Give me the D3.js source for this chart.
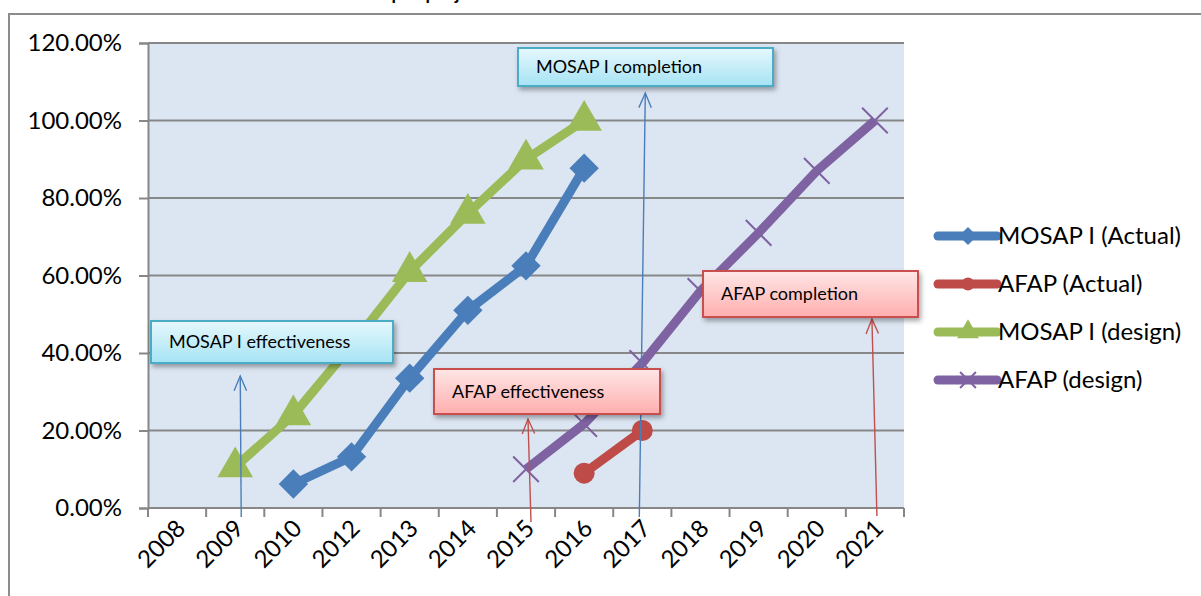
<!DOCTYPE html>
<html>
<head>
<meta charset="utf-8">
<script src="https://cdn.jsdelivr.net/npm/d3@7"></script>
<style>
  body { margin: 0; background: #fff; }
  svg { display: block; font-family: Lato, "Open Sans", sans-serif; }
</style>
</head>
<body>
<div id="chart"></div>
<script>
// categories on the x axis (note: no 2011 in the source)
var years = ["2008", "2009", "2010", "2012", "2013", "2014", "2015", "2016", "2017", "2018", "2019", "2020", "2021"];
var yTicks = [0, 0.2, 0.4, 0.6, 0.8, 1.0, 1.2];

// series values
var mosapActual = [["2010", 0.062], ["2012", 0.132], ["2013", 0.335], ["2014", 0.51], ["2015", 0.625], ["2016", 0.877]];
var afapActual = [["2016", 0.09], ["2017", 0.20]];
var mosapDesign = [["2009", 0.106], ["2010", 0.24], ["2012", 0.42], ["2013", 0.61], ["2014", 0.76], ["2015", 0.90], ["2016", 1.0]];
var afapDesign = [["2015", 0.10], ["2016", 0.217], ["2017", 0.374], ["2018", 0.56], ["2019", 0.71], ["2020", 0.87], ["2021", 1.0]];

var seriesNames = ["MOSAP I (Actual)", "AFAP (Actual)", "MOSAP I (design)", "AFAP (design)"];

// annotations: label, year the arrow points at, style
var notes = [
  { text: "MOSAP I effectiveness", year: "2009", kind: "blue" },
  { text: "MOSAP I completion", year: "2017", kind: "blue" },
  { text: "AFAP effectiveness", year: "2015", kind: "red" },
  { text: "AFAP completion", year: "2021", kind: "red" }
];

var width = 1201, height = 596;
var plot = { left: 148, right: 904, top: 43, bottom: 508 };

var svg = d3.select("#chart").append("svg")
    .attr("width", width)
    .attr("height", height);

var defs = svg.append("defs");

// box gradients + shadow
var gBlue = defs.append("linearGradient").attr("id", "grad-blue").attr("x1", 0).attr("y1", 0).attr("x2", 0).attr("y2", 1);
gBlue.append("stop").attr("offset", "0%").attr("stop-color", "#e6f8fd");
gBlue.append("stop").attr("offset", "100%").attr("stop-color", "#a6e3f4");
var gRed = defs.append("linearGradient").attr("id", "grad-red").attr("x1", 0).attr("y1", 0).attr("x2", 0).attr("y2", 1);
gRed.append("stop").attr("offset", "0%").attr("stop-color", "#ffe6e6");
gRed.append("stop").attr("offset", "100%").attr("stop-color", "#ffaeae");

defs.append("filter").attr("id", "shadow")
    .attr("x", "-10%").attr("y", "-20%").attr("width", "130%").attr("height", "160%")
  .append("feDropShadow")
    .attr("dx", 2).attr("dy", 3).attr("stdDeviation", 2.5)
    .attr("flood-color", "#000").attr("flood-opacity", 0.35);

// title (mostly cut off above the picture, as in the source)
svg.append("text")
    .attr("x", 33).attr("y", 0)
    .attr("font-size", 18).attr("font-weight", "bold")
    .attr("textLength", 454)
    .text("Actual cumulative rates of disbursement per project");

// outer chart border
svg.append("rect")
    .attr("x", 9).attr("y", 14)
    .attr("width", 1200).attr("height", 600)
    .attr("fill", "none").attr("stroke", "#8c8c8c").attr("stroke-width", 2);

// scales
var x = d3.scaleBand().domain(years).range([plot.left, plot.right]);
var y = d3.scaleLinear().domain([0, 1.2]).range([plot.bottom, plot.top]);
var cx = function(d) { return x(d[0]) + x.bandwidth() / 2; };

// plot background
svg.append("rect")
    .attr("x", plot.left).attr("y", plot.top)
    .attr("width", plot.right - plot.left).attr("height", plot.bottom - plot.top)
    .attr("fill", "#dce6f2");

// gridlines
svg.append("g").selectAll("line")
  .data(yTicks)
  .join("line")
    .attr("x1", plot.left).attr("x2", plot.right)
    .attr("y1", function(d) { return y(d); }).attr("y2", function(d) { return y(d); })
    .attr("stroke", "#878787").attr("stroke-width", 2);

// y axis
var yAxis = svg.append("g")
    .attr("transform", "translate(" + plot.left + ",0)")
    .call(d3.axisLeft(y).tickValues(yTicks).tickFormat(d3.format(".2%")).tickSize(9).tickPadding(17));
yAxis.select(".domain").attr("stroke", "#878787").attr("stroke-width", 2);
yAxis.selectAll(".tick line").attr("stroke", "#878787").attr("stroke-width", 2);
yAxis.selectAll(".tick text").attr("font-size", 24).attr("font-family", "Lato, sans-serif").attr("fill", "#000");

// x axis: ticks on category boundaries
var xAxis = svg.append("g").attr("transform", "translate(0," + plot.bottom + ")");
xAxis.append("line")
    .attr("x1", plot.left).attr("x2", plot.right)
    .attr("stroke", "#878787").attr("stroke-width", 2);
var bounds = years.map(function(d) { return x(d); }).concat([plot.right]);
xAxis.selectAll(".xt")
  .data(bounds)
  .join("line")
    .attr("class", "xt")
    .attr("x1", function(d) { return d; }).attr("x2", function(d) { return d; })
    .attr("y1", 0).attr("y2", 9)
    .attr("stroke", "#878787").attr("stroke-width", 2);
xAxis.selectAll(".xl")
  .data(years)
  .join("text")
    .attr("class", "xl")
    .attr("text-anchor", "end")
    .attr("font-size", 24)
    .attr("transform", function(d) {
      return "translate(" + (x(d) + x.bandwidth() / 2 - 2) + ",10) rotate(-45)";
    })
    .attr("dy", "0.7em")
    .text(function(d) { return d; });

// series
var line = d3.line().x(cx).y(function(d) { return y(d[1]); });

var series = [
  { name: seriesNames[0], data: mosapActual, color: "#4a7ebb", marker: "diamond" },
  { name: seriesNames[1], data: afapActual, color: "#be4b48", marker: "circle" },
  { name: seriesNames[2], data: mosapDesign, color: "#9bbb59", marker: "triangle" },
  { name: seriesNames[3], data: afapDesign, color: "#7f62a1", marker: "cross" }
];

function drawMarker(g, kind, color, s) {
  if (kind === "diamond") {
    g.append("path").attr("d", d3.symbol(d3.symbolSquare, s * s * 0.55)())
      .attr("transform", "rotate(45)")
      .attr("fill", color);
  } else if (kind === "circle") {
    g.append("circle").attr("r", s * 0.5).attr("fill", color);
  } else if (kind === "triangle") {
    g.append("path").attr("d", d3.symbol(d3.symbolTriangle, s * s * 0.75)()).attr("fill", color);
  } else {
    g.append("path").attr("d", d3.symbol(d3.symbolTimes, s * s * 0.55)())
      .attr("fill", "none").attr("stroke", color).attr("stroke-width", 2);
  }
}

var sizes = { diamond: 28, circle: 21, triangle: 27, cross: 28 };

series.forEach(function(s) {
  var g = svg.append("g");
  g.append("path")
    .datum(s.data)
    .attr("d", line)
    .attr("fill", "none")
    .attr("stroke", s.color)
    .attr("stroke-width", 9)
    .attr("stroke-linejoin", "round");
  g.selectAll(".m")
    .data(s.data)
    .join("g")
      .attr("transform", function(d) { return "translate(" + cx(d) + "," + y(d[1]) + ")"; })
      .each(function() { drawMarker(d3.select(this), s.marker, s.color, sizes[s.marker]); });
});

// annotation boxes and arrows
var boxes = [
  { x: 151, y: 321, w: 242, h: 42 },
  { x: 518, y: 48, w: 255, h: 38 },
  { x: 434, y: 369, w: 226, h: 45 },
  { x: 703, y: 271, w: 215, h: 46 }
];
var arrows = [
  { dx0: 6, y0: 517, dx1: 5, y1: 376 },
  { dx0: -3, y0: 517, dx1: 3, y1: 93 },
  { dx0: 5, y0: 522, dx1: 2, y1: 419 },
  { dx0: 2, y0: 516, dx1: -3, y1: 319 }
];
var kinds = {
  blue: { fill: "url(#grad-blue)", stroke: "#4bacc6", arrow: "#4a7ebb" },
  red: { fill: "url(#grad-red)", stroke: "#c8504d", arrow: "#c0504d" }
};

notes.forEach(function(n, i) {
  var k = kinds[n.kind];
  var a = arrows[i];
  var xc = x(n.year) + x.bandwidth() / 2;
  var x0 = xc + a.dx0, x1 = xc + a.dx1;
  var ang = Math.atan2(a.y1 - a.y0, x1 - x0);
  var head = 16, spread = 0.4;
  var g = svg.append("g");
  g.append("line")
    .attr("x1", x0).attr("y1", a.y0).attr("x2", x1).attr("y2", a.y1)
    .attr("stroke", k.arrow).attr("stroke-width", 1.4);
  g.append("path")
    .attr("d", "M" + (x1 - head * Math.cos(ang - spread)) + "," + (a.y1 - head * Math.sin(ang - spread)) +
      "L" + x1 + "," + a.y1 +
      "L" + (x1 - head * Math.cos(ang + spread)) + "," + (a.y1 - head * Math.sin(ang + spread)))
    .attr("fill", "none").attr("stroke", k.arrow).attr("stroke-width", 1.4);

  var b = boxes[i];
  svg.append("rect")
    .attr("x", b.x).attr("y", b.y).attr("width", b.w).attr("height", b.h)
    .attr("fill", k.fill).attr("stroke", k.stroke).attr("stroke-width", 2)
    .attr("filter", "url(#shadow)");
  svg.append("text")
    .attr("x", b.x + 18).attr("y", b.y + b.h / 2)
    .attr("dy", "0.35em")
    .attr("font-size", 18)
    .text(n.text);
});

// legend
var legend = svg.append("g").attr("transform", "translate(938,236)");
series.forEach(function(s, i) {
  var g = legend.append("g").attr("transform", "translate(0," + (i * 48) + ")");
  g.append("line").attr("x1", 0).attr("x2", 59)
    .attr("stroke", s.color).attr("stroke-width", 9).attr("stroke-linecap", "round");
  var m = g.append("g").attr("transform", "translate(30,0)");
  drawMarker(m, s.marker, s.color, sizes[s.marker] * 0.62);
  g.append("text")
    .attr("x", 60).attr("dy", "0.35em")
    .attr("font-size", 24)
    .text(s.name);
});
</script>
</body>
</html>
